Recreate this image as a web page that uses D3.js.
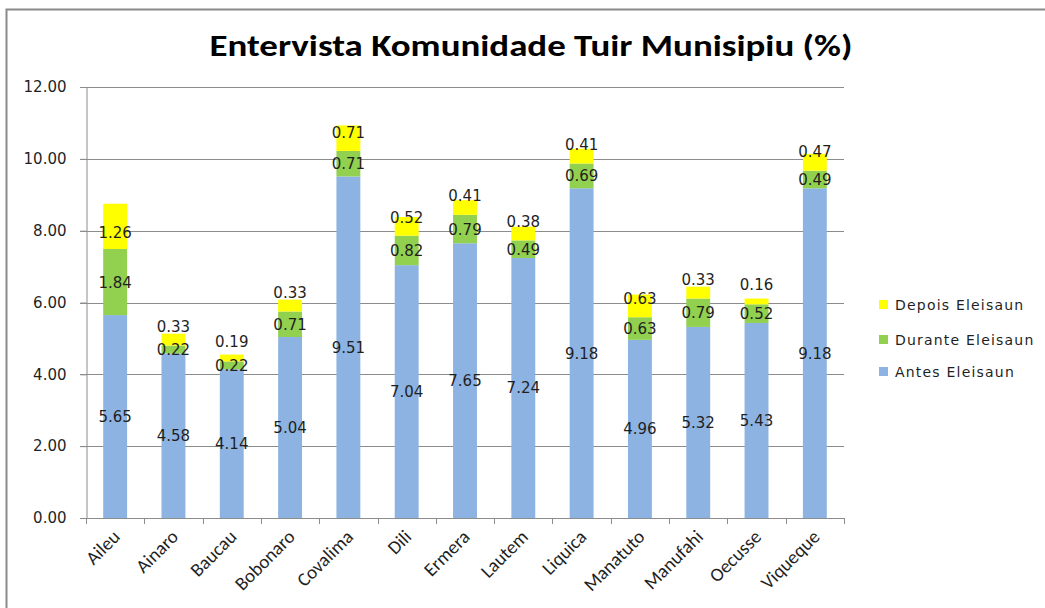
<!DOCTYPE html>
<html>
<head>
<meta charset="utf-8">
<script src="https://cdn.jsdelivr.net/npm/d3@7"></script>
<style>
  body { margin: 0; background: #fff; }
  svg { display: block; }
</style>
</head>
<body>
<svg id="chart" width="1045" height="608"></svg>
<script>
var categories = ['Aileu', 'Ainaro', 'Baucau', 'Bobonaro', 'Covalima', 'Dili', 'Ermera',
  'Lautem', 'Liquica', 'Manatuto', 'Manufahi', 'Oecusse', 'Viqueque'];
var antes = [5.65, 4.58, 4.14, 5.04, 9.51, 7.04, 7.65, 7.24, 9.18, 4.96, 5.32, 5.43, 9.18];
var durante = [1.84, 0.22, 0.22, 0.71, 0.71, 0.82, 0.79, 0.49, 0.69, 0.63, 0.79, 0.52, 0.49];
var depois = [1.26, 0.33, 0.19, 0.33, 0.71, 0.52, 0.41, 0.38, 0.41, 0.63, 0.33, 0.16, 0.47];
var seriesNames = ['Antes Eleisaun', 'Durante Eleisaun', 'Depois Eleisaun'];
var seriesColors = ['#8db3e2', '#92d050', '#ffff00'];
var yTicks = [0, 2, 4, 6, 8, 10, 12];

var svg = d3.select('#chart');

// outer frame (runs off the right and bottom edges)
svg.append('rect')
  .attr('x', 6.5).attr('y', 9.5)
  .attr('width', 1100).attr('height', 700)
  .attr('fill', 'none')
  .attr('stroke', '#8a8a8a')
  .attr('stroke-width', 2);

var plotLeft = 86, plotRight = 844, plotTop = 87, plotBottom = 518;

var x = d3.scaleBand()
  .domain(categories)
  .range([plotLeft, plotRight])
  .paddingInner(0.59)
  .paddingOuter(0.295);

var y = d3.scaleLinear()
  .domain([0, 12])
  .range([plotBottom, plotTop]);

// gridlines
svg.append('g')
  .selectAll('line')
  .data(yTicks)
  .enter()
  .append('line')
  .attr('x1', plotLeft - 6).attr('x2', plotRight)
  .attr('y1', function(d) { return Math.round(y(d)) + 0.5; })
  .attr('y2', function(d) { return Math.round(y(d)) + 0.5; })
  .attr('stroke', '#8c8c8c')
  .attr('stroke-width', 1);

// y axis
var yAxis = svg.append('g')
  .attr('transform', 'translate(' + (plotLeft + 0.5) + ',0)')
  .call(d3.axisLeft(y).tickValues(yTicks).tickFormat(d3.format('.2f')).tickSize(6).tickPadding(14));
yAxis.select('.domain').attr('stroke', '#8c8c8c');
yAxis.selectAll('.tick line').attr('stroke', '#8c8c8c');
yAxis.selectAll('.tick text')
  .attr('font-family', 'DejaVu Sans, Verdana, sans-serif')
  .attr('font-size', '15px')
  .attr('fill', '#1f1f1f');

// stacked data
var rows = categories.map(function(c, i) {
  return {cat: c, antes: antes[i], durante: durante[i], depois: depois[i]};
});
var stack = d3.stack().keys(['antes', 'durante', 'depois'])(rows);

var bars = svg.append('g');
stack.forEach(function(layer, k) {
  bars.selectAll('.s' + k)
    .data(layer)
    .enter()
    .append('rect')
    .attr('class', 's' + k)
    .attr('x', function(d) { return x(d.data.cat); })
    .attr('width', x.bandwidth())
    .attr('y', function(d) { return y(d[1]); })
    .attr('height', function(d) { return y(d[0]) - y(d[1]); })
    .attr('fill', seriesColors[k]);
});

// x axis
var xAxisLine = svg.append('g');
xAxisLine.append('line')
  .attr('x1', plotLeft).attr('x2', plotRight)
  .attr('y1', plotBottom + 0.5).attr('y2', plotBottom + 0.5)
  .attr('stroke', '#8c8c8c');
var step = x.step();
xAxisLine.selectAll('.xt')
  .data(d3.range(categories.length + 1))
  .enter()
  .append('line')
  .attr('x1', function(i) { return Math.round(plotLeft + i * step) + 0.5; })
  .attr('x2', function(i) { return Math.round(plotLeft + i * step) + 0.5; })
  .attr('y1', plotBottom).attr('y2', plotBottom + 6)
  .attr('stroke', '#8c8c8c');

svg.append('g')
  .selectAll('text')
  .data(categories)
  .enter()
  .append('text')
  .attr('transform', function(d) {
    return 'translate(' + (x(d) + x.bandwidth() / 2 + 6) + ',' + (plotBottom + 20) + ') rotate(-45)';
  })
  .attr('text-anchor', 'end')
  .attr('font-family', 'Carlito, Open Sans, sans-serif')
  .attr('font-size', '19px')
  .attr('fill', '#1f1f1f')
  .text(function(d) { return d; });

// data labels
var labels = svg.append('g')
  .attr('font-family', 'DejaVu Sans, Verdana, sans-serif')
  .attr('font-size', '15px')
  .attr('fill', '#1f1f1f')
  .attr('text-anchor', 'middle');
stack.forEach(function(layer, k) {
  labels.selectAll('.l' + k)
    .data(layer)
    .enter()
    .append('text')
    .attr('x', function(d) { return x(d.data.cat) + x.bandwidth() / 2; })
    .attr('y', function(d) {
      var y0 = y(d[0]), y1 = y(d[1]);
      var h = y0 - y1;
      var cy = k < 2 ? (y0 + y1) / 2 : y0 - 20 + 0.07 * h;
      return cy + 5.5;
    })
    .text(function(d) { return d3.format('.2f')(d[1] - d[0]); });
});

// legend
var legendItems = [2, 1, 0];
var legend = svg.append('g');
legendItems.forEach(function(k, i) {
  var ly = [305, 340, 372][i];
  legend.append('rect')
    .attr('x', 879).attr('y', ly - 5)
    .attr('width', 9).attr('height', 9)
    .attr('fill', seriesColors[k]);
  legend.append('text')
    .attr('x', 895).attr('y', ly + 5)
    .attr('font-family', 'DejaVu Sans, Verdana, sans-serif')
    .attr('font-size', '14px')
    .attr('letter-spacing', '1.2px')
    .attr('fill', '#1f1f1f')
    .text(seriesNames[k]);
});

// title
var title = svg.append('text')
  .attr('x', 531).attr('y', 56)
  .attr('text-anchor', 'middle')
  .attr('font-family', 'Carlito, Liberation Sans Narrow, Open Sans, sans-serif')
  .attr('font-weight', 'bold')
  .attr('font-size', '30px')
  .attr('fill', '#000')
  .text('Entervista Komunidade Tuir Munisipiu (%)');
var tw = title.node().getComputedTextLength();
if (Math.abs(tw - 643) > 10) {
  title.attr('textLength', 643).attr('lengthAdjust', 'spacingAndGlyphs');
}
</script>
</body>
</html>
